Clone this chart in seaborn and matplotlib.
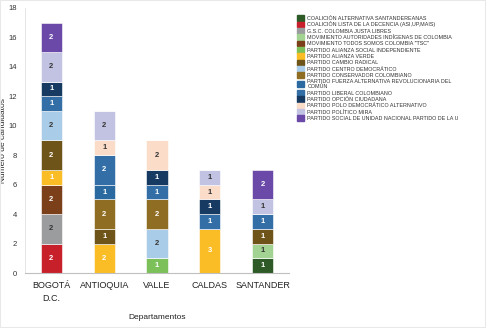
import matplotlib
matplotlib.use("Agg")
import matplotlib.pyplot as plt
import seaborn as sns
import numpy as np
from matplotlib.patches import Rectangle

departamentos = ["BOGOTÁ\nD.C.", "ANTIOQUIA", "VALLE", "CALDAS", "SANTANDER"]

partidos = [
    "COALICIÓN ALTERNATIVA SANTANDEREANAS",
    "COALICIÓN LISTA DE LA DECENCIA (ASI,UP,MAIS)",
    "G.S.C. COLOMBIA JUSTA LIBRES",
    "MOVIMIENTO AUTORIDADES INDÍGENAS DE COLOMBIA",
    "MOVIMIENTO TODOS SOMOS COLOMBIA \"TSC\"",
    "PARTIDO ALIANZA SOCIAL INDEPENDIENTE",
    "PARTIDO ALIANZA VERDE",
    "PARTIDO CAMBIO RADICAL",
    "PARTIDO CENTRO DEMOCRÁTICO",
    "PARTIDO CONSERVADOR COLOMBIANO",
    "PARTIDO FUERZA ALTERNATIVA REVOLUCIONARIA DEL\nCOMÚN",
    "PARTIDO LIBERAL COLOMBIANO",
    "PARTIDO OPCIÓN CIUDADANA",
    "PARTIDO POLO DEMOCRÁTICO ALTERNATIVO",
    "PARTIDO POLÍTICO MIRA",
    "PARTIDO SOCIAL DE UNIDAD NACIONAL PARTIDO DE LA U",
]

# values per party, per departamento (Bogotá, Antioquia, Valle, Caldas, Santander)
coalicion_santandereanas = [0, 0, 0, 0, 1]
lista_decencia = [2, 0, 0, 0, 0]
gsc_justa_libres = [2, 0, 0, 0, 0]
autoridades_indigenas = [0, 0, 0, 0, 1]
todos_somos_colombia = [2, 0, 0, 0, 0]
alianza_social_indep = [0, 0, 1, 0, 0]
alianza_verde = [1, 2, 0, 3, 0]
cambio_radical = [2, 1, 0, 0, 1]
centro_democratico = [2, 0, 2, 0, 0]
conservador = [0, 2, 2, 0, 0]
farc = [0, 1, 0, 0, 0]
liberal = [1, 2, 1, 1, 1]
opcion_ciudadana = [1, 0, 1, 1, 0]
polo_democratico = [0, 1, 2, 1, 0]
mira = [2, 2, 0, 1, 1]
partido_u = [2, 0, 0, 0, 2]

series = [coalicion_santandereanas, lista_decencia, gsc_justa_libres,
          autoridades_indigenas, todos_somos_colombia, alianza_social_indep,
          alianza_verde, cambio_radical, centro_democratico, conservador,
          farc, liberal, opcion_ciudadana, polo_democratico, mira, partido_u]

colores = ["#2d5a27", "#c8202a", "#9a9c9e", "#a3d392", "#7b3f1a", "#7cc05a",
           "#fbbd25", "#6e5418", "#a9cde8", "#8f6d22", "#2a6aa0", "#336fa6",
           "#173a63", "#fadcc8", "#c2c2e2", "#6a49a8"]
texto_oscuro = {2, 3, 8, 13, 14}

sns.set_theme(style="white")
plt.rcParams['font.family'] = ['Liberation Sans', 'DejaVu Sans']

fig = plt.figure(figsize=(4.86, 3.28), dpi=100)
ax = fig.add_axes([25/486, 55/328, 264/486, 265/328])

x = np.arange(len(departamentos))
bottom = np.zeros(len(departamentos))
handles = []
for i, (vals, col) in enumerate(zip(series, colores)):
    vals = np.array(vals, dtype=float)
    bars = ax.bar(x, vals, bottom=bottom, width=0.4, color=col,
                  edgecolor="white", linewidth=0.4, label=partidos[i])
    handles.append(bars)
    for xi, v, b in zip(x, vals, bottom):
        if v > 0:
            ax.text(xi, b + v / 2, f"{int(v)}", ha="center", va="center",
                    fontsize=5.5, fontweight="bold",
                    color="#333333" if i in texto_oscuro else "white")
    bottom += vals

ax.set_xlim(-0.5, 4.5)
ax.set_ylim(0, 18)
ax.set_yticks(np.arange(0, 19, 2))
ax.set_xticks(x)
ax.set_xticklabels(departamentos, fontsize=6.5, color="#222222", linespacing=1.5)
ax.tick_params(axis="y", labelsize=5.5, colors="#333333", pad=6, length=0)
ax.tick_params(axis="x", pad=6, length=0)
for s in ["top", "right"]:
    ax.spines[s].set_visible(False)
ax.spines["bottom"].set_color("#bfbfbf")
ax.spines["bottom"].set_linewidth(0.8)
ax.spines["left"].set_color("#e0e0e0")
ax.spines["left"].set_linewidth(0.6)

ax.set_xlabel("Departamentos", fontsize=6, color="#222222", labelpad=8)
ax.set_ylabel("Número de candidatos", fontsize=6, color="#222222")
ax.yaxis.set_label_coords(-0.068, 0.5)

leg = fig.legend(handles=[Rectangle((0, 0), 1, 1, color=c) for c in colores],
                 labels=partidos, loc="upper left",
                 bbox_to_anchor=(297/486, 1 - 15/328), frameon=False,
                 fontsize=3.9, labelspacing=0.11, handlelength=1.3,
                 handleheight=1.25, handletextpad=0.6, borderaxespad=0,
                 borderpad=0)
for t in leg.get_texts():
    t.set_color("#333333")

fig.patches.append(Rectangle((0, 0), 1, 1, transform=fig.transFigure,
                             fill=False, edgecolor="#e8e8e8", linewidth=1.5))

fig.savefig("out.png", dpi=100)
